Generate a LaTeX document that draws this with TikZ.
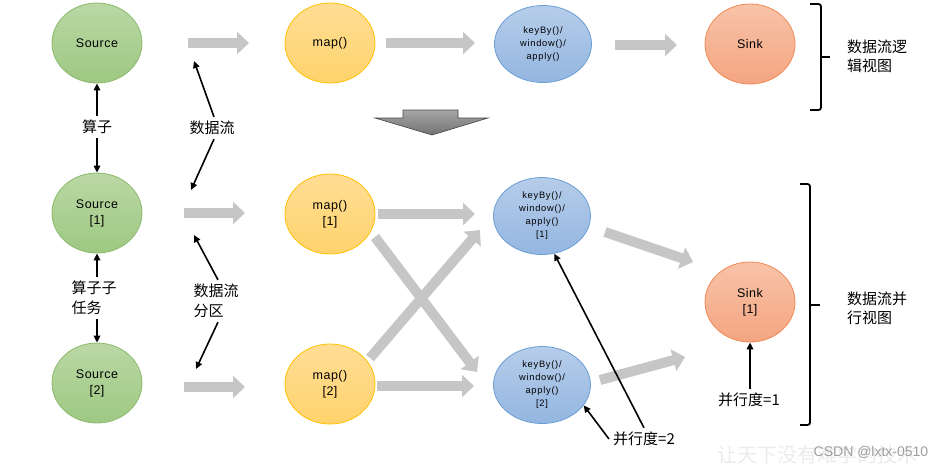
\documentclass[tikz,border=0pt]{standalone}
\usepackage{fontspec}
\setmainfont{Liberation Sans}
\newfontfamily\cjk{Noto Sans CJK SC}
\newfontfamily\opfont[LetterSpace=4]{Liberation Sans}
\newfontfamily\kfont[LetterSpace=8]{Liberation Sans}
\usetikzlibrary{shapes.geometric,arrows.meta}
\definecolor{srctop}{HTML}{BAD8A5}
\definecolor{srcbot}{HTML}{9EC882}
\definecolor{srcline}{HTML}{8CBA6C}
\definecolor{maptop}{HTML}{FFDD95}
\definecolor{mapbot}{HTML}{FFD36C}
\definecolor{mapline}{HTML}{FFC000}
\definecolor{keytop}{HTML}{B6CDEA}
\definecolor{keybot}{HTML}{94B6E0}
\definecolor{keyline}{HTML}{6A9FD4}
\definecolor{sinktop}{HTML}{F8C3A8}
\definecolor{sinkbot}{HTML}{F4A582}
\definecolor{sinkline}{HTML}{F08A55}
\definecolor{flowgray}{HTML}{C6C6C6}
\begin{document}
\begin{tikzpicture}[x=1pt,y=-1pt,
 op/.style={ellipse,minimum width=90pt,minimum height=80pt,inner sep=0pt,align=center,line width=0.8pt,font={\opfont\fontsize{12.5}{16}\selectfont}},
 srcnode/.style={op,draw=srcline,top color=srctop,bottom color=srcbot},
 mapnode/.style={op,draw=mapline,top color=maptop,bottom color=mapbot},
 keynode/.style={op,minimum width=97pt,minimum height=77pt,draw=keyline,top color=keytop,bottom color=keybot,font={\kfont\fontsize{9.3}{13}\selectfont}},
 sinknode/.style={op,draw=sinkline,top color=sinktop,bottom color=sinkbot},
 flow/.style={line width=10pt,draw=flowgray,-{Triangle[length=12pt,width=22pt]}},
 ptr/.style={line width=1.6pt,-{Triangle[length=7pt,width=6.5pt]}},
 lbl/.style={font={\cjk\fontsize{15}{20}\selectfont},inner sep=4pt,align=left},
 bracepath/.style={line width=1.8pt,rounded corners=2.5pt},
]
\useasboundingbox (0,0) rectangle (946,467);
% nodes row 0
\node[srcnode] (s0) at (97,43) {Source};
\node[mapnode] (m0) at (330,43) {map()};
\node[keynode] (k0) at (543,44) {keyBy()/\\window()/\\apply()};
\node[sinknode] (sk0) at (750,44) {Sink};
% row 1
\node[srcnode] (s1) at (97,213) {Source\\{[1]}};
\node[mapnode] (m1) at (330,214) {map()\\{[1]}};
\node[keynode] (k1) at (542,216) {keyBy()/\\window()/\\apply()\\{[1]}};
% row 2
\node[srcnode] (s2) at (97,383) {Source\\{[2]}};
\node[mapnode] (m2) at (330,384) {map()\\{[2]}};
\node[keynode] (k2) at (542,385) {keyBy()/\\window()/\\apply()\\{[2]}};
\node[sinknode] (sk1) at (750,302) {Sink\\{[1]}};
% flow arrows
\draw[flow] (188,43) -- (249,43);
\draw[flow] (386,43) -- (475,43);
\draw[flow] (615,45) -- (677,45);
\draw[flow] (184,213) -- (245,213);
\draw[flow] (378,214) -- (475,214);
\draw[flow] (375,237) -- (477,372);
\draw[flow] (370,358) -- (480,230);
\draw[flow] (605,232) -- (693,262);
\draw[flow] (184,387) -- (245,387);
\draw[flow] (377,386) -- (474,386);
\draw[flow] (600,380) -- (685,357);
% big down arrow
\draw[draw=gray!55!black,line width=0.6pt,top color=gray!70,bottom color=gray!90!black]
 (403,110) -- (458,110) -- (458,118) -- (488,118) -- (432,135) -- (375,118) -- (403,118) -- cycle;
% labels and pointers
\node[lbl] (suanzi) at (97,127) {算子};
\draw[ptr] (suanzi) -- (s0);
\draw[ptr] (suanzi) -- (s1);
\node[lbl] (sjl) at (212,128) {数据流};
\coordinate (t1) at (194,61);
\coordinate (t2) at (191,190);
\draw[ptr] ([xshift=2pt]sjl.north) -- (t1);
\draw[ptr] ([xshift=2pt]sjl.south) -- (t2);
\node[lbl] (zzr) at (94,298) {算子子\\任务};
\draw[ptr] (zzr.north -| s1.south) -- (s1.south);
\draw[ptr] (zzr.south -| s2.north) -- (s2.north);
\node[lbl] (sjf) at (216,301) {数据流\\分区};
\coordinate (t3) at (194,235);
\coordinate (t4) at (196,369);
\draw[ptr] ([xshift=2pt]sjf.north) -- (t3);
\draw[ptr] ([xshift=2pt]sjf.south) -- (t4);
\node[lbl] (p1) at (749,400) {并行度=1};
\draw[ptr] (p1.north -| sk1.south) -- (sk1.south);
\node[lbl] (p2) at (644,439) {并行度=2};
\draw[ptr] (p2.west) -- (k2.-26);
\draw[ptr] (p2.north) -- (k1.-72);
% braces and view labels
\draw[bracepath] (810,4) -- (821,4) -- (821,110) -- (810,110);
\draw[line width=1.8pt] (821,57) -- (830,57);
\node[lbl,anchor=west,font={\cjk\fontsize{15}{19}\selectfont}] (lv) at (843,56) {数据流逻\\辑视图};
\draw[bracepath] (800,184) -- (810,184) -- (810,425) -- (800,425);
\draw[line width=1.8pt] (810,305) -- (820,305);
\node[lbl,anchor=west,font={\cjk\fontsize{15}{19}\selectfont}] (pv) at (843,308) {数据流并\\行视图};
% watermark
\node[font={\cjk\fontsize{20}{20}\selectfont},text=gray!16] (wm) at (817,455) {让天下没有难学的技术};
\node[font={\fontsize{14}{14}\selectfont},text=gray!75] (csdn) at (871,452) {CSDN @lxtx-0510};
\end{tikzpicture}
\end{document}
